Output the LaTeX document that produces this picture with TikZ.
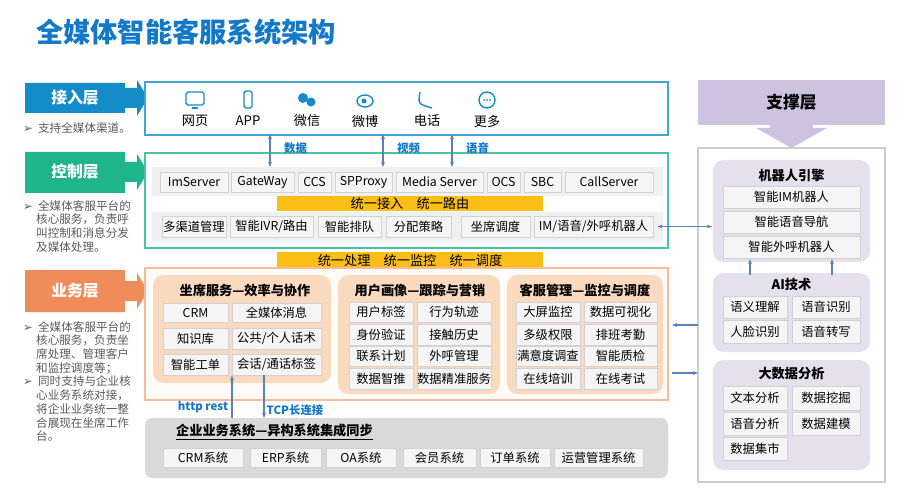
\documentclass[tikz,border=0pt]{standalone}
\usepackage{fontspec}
\setmainfont{Noto Sans CJK SC}
\newfontfamily\symfont{DejaVu Sans}
\usetikzlibrary{arrows.meta,positioning,calc}

\definecolor{accblue}{RGB}{20,140,200}
\definecolor{ctlgreen}{RGB}{30,180,140}
\definecolor{bizorange}{RGB}{240,140,90}
\definecolor{suppurple}{RGB}{205,195,225}
\definecolor{lavender}{RGB}{228,224,238}
\definecolor{peach}{RGB}{250,218,190}
\definecolor{barorange}{RGB}{250,190,20}
\definecolor{titleblue}{RGB}{20,120,200}
\definecolor{linkblue}{RGB}{90,130,180}

\newcommand\sls{/}
\tikzset{
  cell/.style={draw=gray!35,fill=gray!8,inner sep=0pt,font=\fontsize{7}{8}\selectfont},
  banner/.style={text=white,font=\fontsize{9}{10}\selectfont\bfseries},
  ptitle/.style={font=\fontsize{7.5}{9}\selectfont\bfseries},
  note/.style={anchor=north west,align=left,text=gray!70!black,font=\fontsize{6.6}{7.8}\selectfont},
  lnk/.style={linkblue,semithick,-{Stealth[length=3pt]}},
  lnklbl/.style={text=titleblue,font=\fontsize{6.5}{8}\selectfont\bfseries},
  icon/.style={accblue,thick}
}
% cell box from x1 to x2 and y1 to y2 (pixels)
\newcommand\cellat[6]{%
  \node[cell,minimum width={(#3-#2)*0.02cm},minimum height={(#5-#4)*0.02cm}]
    (#1) at ({(#2+#3)/2},{(#4+#5)/2}) {#6};}

\begin{document}
\begin{tikzpicture}[x=0.02cm,y=-0.02cm]
  \useasboundingbox (0,0) rectangle (910,500);

  \node[anchor=west,text=titleblue,font=\fontsize{15.5}{17}\selectfont\bfseries] (title) at (30,32) {全媒体智能客服系统架构};

  % layer banners
  \fill[accblue] (25,83) rectangle (125,113) (125,88) -- (137,88) -- (137,80) -- (148,98) -- (137,116) -- (137,108) -- (125,108) -- cycle;
  \node[banner] (acc) at (75,98) {接入层};
  \fill[ctlgreen] (25,152) rectangle (125,193) (125,162) -- (137,162) -- (137,154) -- (148,172) -- (137,190) -- (137,182) -- (125,182) -- cycle;
  \node[banner] (ctl) at (75,172) {控制层};
  \fill[bizorange] (25,270) rectangle (125,312) (125,281) -- (137,281) -- (137,273) -- (148,291) -- (137,309) -- (137,301) -- (125,301) -- cycle;
  \node[banner] (biz) at (75,291) {业务层};

  \node[note] (accnote) at (17,116) {{\symfont ➢}\ \ 支持全媒体渠道。};
  \node[note] (ctlnote) at (17,194) {{\symfont ➢}\ \ 全媒体客服平台的\\\ \ \ \ \ 核心服务，负责呼\\\ \ \ \ \ 叫控制和消息分发\\\ \ \ \ \ 及媒体处理。};
  \node[note] (biznote) at (17,315) {{\symfont ➢}\ \ 全媒体客服平台的\\\ \ \ \ \ 核心服务，负责坐\\\ \ \ \ \ 席处理、管理客户\\\ \ \ \ \ 和监控调度等；\\{\symfont ➢}\ \ 同时支持与企业核\\\ \ \ \ \ 心业务系统对接，\\\ \ \ \ \ 将企业业务统一整\\\ \ \ \ \ 合展现在坐席工作\\\ \ \ \ \ 台。};

  % access layer
  \draw[accblue!80,thick,fill=white] (145,82) rectangle (668,135);
  \draw[icon,rounded corners=1pt] (186,92) rectangle (204,105); \draw[icon] (192,108) -- (198,108);
  \draw[icon,rounded corners=1pt] (244,91) rectangle (252,108);
  \fill[accblue] (303,98) circle (5); \fill[accblue] (311,102) circle (4.5);
  \draw[icon] (365,101) ellipse (8 and 6); \fill[accblue] (364,101) circle (2.5);
  \draw[icon] (420,92) .. controls (418,104) .. (432,108);
  \draw[icon] (487,100) circle (8); \fill[accblue] (484,100) circle (1) (487,100) circle (1) (490,100) circle (1);
  \foreach \x/\t [count=\i] in {195/网页,248/APP,307/微信,365/微博,427/电话,487/更多}
    \node[font=\fontsize{7.5}{9}\selectfont] (ch\i) at (\x,121) {\t};

  % control layer
  \draw[ctlgreen!80,thick,fill=white] (145,153) rectangle (668,248);
  \fill[gray!12] (152,167) rectangle (663,196);
  \fill[gray!12] (152,212) rectangle (663,241);
  \foreach \n/\a/\b/\t in {ims/160/228/ImServer,gw/231/294/GateWay,ccs/298/331/CCS,spp/335/392/SPProxy,
      ms/396/483/Media Server,ocs/487/520/OCS,sbc/524/561/SBC,cs/565/653/CallServer}
    {\cellat{\n}{\a}{\b}{172}{192}{\t}}
  \fill[barorange] (277,196) rectangle (543,211);
  \node[font=\fontsize{7.5}{9}\selectfont] (route) at (410,203.5) {统一接入\quad 统一路由};
  \foreach \n/\a/\b/\t in {mc/162/226/多渠道管理,ivr/230/313/智能IVR\sls 路由,queue/318/381/智能排队,
      alloc/386/451/分配策略,sched/461/530/坐席调度,robot/534/653/IM\sls 语音\sls 外呼机器人}
    {\cellat{\n}{\a}{\b}{216}{237}{\t}}

  \fill[barorange] (277,252) rectangle (543,268);
  \node[font=\fontsize{7.5}{9}\selectfont] (proc) at (410,260) {统一处理\quad 统一监控\quad 统一调度};

  % links access <-> control
  \foreach \x/\t in {270/数据,383/视频,452/语音}{
    \draw[linkblue,semithick,{Stealth[length=3pt]}-{Stealth[length=3pt]}] (\x,134) -- (\x,167);
    \node[lnklbl,anchor=west] at (\x+8,148) {\t};}

  % business layer
  \draw[bizorange!60,thick,fill=orange!3] (145,268) rectangle (668,400);
  \fill[peach,rounded corners=6pt] (153,275) rectangle (331,383);
  \fill[peach,rounded corners=6pt] (338,275) rectangle (500,394);
  \fill[peach,rounded corners=6pt] (507,275) rectangle (663,394);
  \node[ptitle] (seat) at (245,290) {坐席服务—效率与协作};
  \node[ptitle] (user) at (420,290) {用户画像—跟踪与营销};
  \node[ptitle] (mgmt) at (585,290) {客服管理—监控与调度};
  \foreach \n/\r/\u/\p/\q in {1/303/322/CRM/全媒体消息,2/328/349/知识库/公共\sls 个人话术,3/354/375/智能工单/会话\sls 通话标签}{
    \cellat{sa\n}{163}{228}{\r}{\u}{\p}
    \cellat{sb\n}{232}{321}{\r}{\u}{\q}}
  \foreach \n/\r/\u/\p/\q in {1/302/322/用户标签/行为轨迹,2/324/345/身份验证/接触历史,3/346/366/联系计划/外呼管理,4/368/389/数据智推/数据精准服务}{
    \cellat{ua\n}{349}{413}{\r}{\u}{\p}
    \cellat{ub\n}{417}{491}{\r}{\u}{\q}}
  \foreach \n/\r/\u/\p/\q in {1/302/322/大屏监控/数据可视化,2/324/345/多级权限/排班考勤,3/346/366/满意度调查/智能质检,4/368/389/在线培训/在线考试}{
    \cellat{ma\n}{516}{580}{\r}{\u}{\p}
    \cellat{mb\n}{584}{657}{\r}{\u}{\q}}

  % enterprise systems
  \fill[gray!30,rounded corners=4pt] (145,418) rectangle (668,478);
  \node[ptitle,anchor=west] (ent) at (170,432) {\underline{企业业务系统—异构系统集成同步}};
  \foreach \n/\a/\b/\t in {crm/163/243/CRM系统,erp/250/321/ERP系统,oa/326/396/OA系统,
      vip/403/476/会员系统,order/480/550/订单系统,ops/554/643/运营管理系统}
    {\cellat{\n}{\a}{\b}{448}{467}{\t}}
  \coordinate (httpb) at (232,418); \coordinate (tcpb) at (264,418);
  \draw[lnk] (httpb) -- (sb3.south -| httpb);
  \draw[lnk] (sb3.south -| tcpb) -- (tcpb);
  \node[lnklbl] (http) at (203,407) {http rest};
  \node[lnklbl] (tcp) at (295,410) {TCP长连接};

  % support layer
  \fill[suppurple] (698,80) rectangle (885,125);
  \fill[suppurple] (770,125) -- (813,125) -- (813,128) -- (827,128) -- (791.5,148) -- (756,128) -- (770,128) -- cycle;
  \node[font=\fontsize{9.5}{11}\selectfont\bfseries] (sup) at (791.5,102) {支撑层};
  \draw[gray!40,thick,fill=white] (698,148) rectangle (885,482);
  \fill[lavender,rounded corners=6pt] (713,160) rectangle (870,262);
  \fill[lavender,rounded corners=6pt] (713,273) rectangle (870,352);
  \fill[lavender,rounded corners=6pt] (713,360) rectangle (870,470);
  \node[ptitle] (rbt) at (791.5,175) {机器人引擎};
  \cellat{r1}{723}{860}{186}{208}{智能IM机器人}
  \cellat{r2}{723}{860}{211}{233}{智能语音导航}
  \cellat{r3}{723}{860}{236}{258}{智能外呼机器人}
  \node[ptitle] (ai) at (791.5,284) {AI技术};
  \cellat{a1}{723}{787}{296}{318}{语义理解}
  \cellat{a2}{792}{860}{296}{318}{语音识别}
  \cellat{a3}{723}{787}{320}{343}{人脸识别}
  \cellat{a4}{792}{860}{320}{343}{语音转写}
  \node[ptitle] (bd) at (791.5,374) {大数据分析};
  \cellat{d1}{723}{787}{386}{410}{文本分析}
  \cellat{d2}{792}{860}{386}{410}{数据挖掘}
  \cellat{d3}{723}{787}{412}{435}{语音分析}
  \cellat{d4}{792}{860}{412}{435}{数据建模}
  \cellat{d5}{723}{787}{437}{460}{数据集市}
  \draw[lnk] (750,275) -- (750,259);
  \draw[lnk] (832,275) -- (832,259);

  % cross links
  \draw[linkblue,semithick,{Stealth[length=3pt]}-{Stealth[length=3pt]}] (robot.east) ++(4,0) -- (712,226.5);
  \coordinate (supin) at (698,325); \coordinate (supout) at (698,373);
  \draw[lnk] (supin) -- (672,325);
  \draw[lnk] (672,373) -- (supout);
\end{tikzpicture}
\end{document}
